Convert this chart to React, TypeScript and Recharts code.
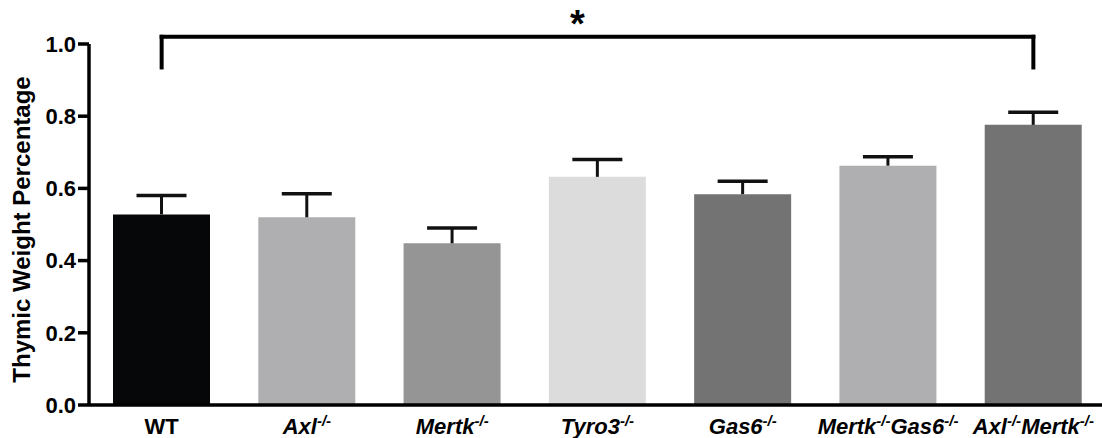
import React from 'react';
import { BarChart, Bar, XAxis, YAxis, Cell, ReferenceLine } from 'recharts';

const categories = ['WT', 'Axl', 'Mertk', 'Tyro3', 'Gas6', 'MertkGas6', 'AxlMertk'];
const means = [0.528, 0.520, 0.448, 0.632, 0.584, 0.663, 0.776];
const sems = [0.052, 0.065, 0.042, 0.048, 0.036, 0.025, 0.035];
const colors = ['#060708', '#afafb1', '#959595', '#dcdcdc', '#737373', '#afafb1', '#737373'];
// label parts: [text, isSuperscript, isItalic]
const tickLabels: [string, boolean, boolean][][] = [
  [['WT', false, false]],
  [['Axl', false, true], ['-/-', true, true]],
  [['Mertk', false, true], ['-/-', true, true]],
  [['Tyro3', false, true], ['-/-', true, true]],
  [['Gas6', false, true], ['-/-', true, true]],
  [['Mertk', false, true], ['-/-', true, true], ['Gas6', false, true], ['-/-', true, true]],
  [['Axl', false, true], ['-/-', true, true], ['Mertk', false, true], ['-/-', true, true]],
];
const yTicks = [0, 0.2, 0.4, 0.6, 0.8, 1.0];
const yTitle = 'Thymic Weight Percentage';
const bracketFrom = 'WT';
const bracketTo = 'AxlMertk';
const bracketTop = 1.02;
const bracketBottom = 0.935;
const bracketMark = '*';

const data = categories.map((c, i) => ({ name: c, mean: means[i], sem: sems[i] }));

const FONT = '"Liberation Sans", Arial, Helvetica, sans-serif';

const ErrShape = (p: any) => {
  const { x, y, width, height } = p;
  const cx = x + width / 2;
  return (
    <g>
      <line x1={cx} x2={cx} y1={y + height} y2={y} stroke="#111" strokeWidth={3} />
      <line x1={cx - 25} x2={cx + 25} y1={y} y2={y} stroke="#111" strokeWidth={3.5} />
    </g>
  );
};

const XTick = (p: any) => {
  const { x, y, payload } = p;
  const idx = categories.indexOf(payload.value);
  const parts = tickLabels[idx] || [];
  const nodes: any[] = [];
  let raised = false;
  parts.forEach(([t, sup, it], k) => {
    let dy: number | undefined = undefined;
    if (sup && !raised) { dy = -8; raised = true; }
    else if (!sup && raised) { dy = 8; raised = false; }
    nodes.push(
      <tspan key={k} dy={dy} fontSize={sup ? 15 : 22} fontStyle={it ? 'italic' : 'normal'}>{t}</tspan>
    );
  });
  return (
    <text x={x} y={y + 21} textAnchor="middle" fontFamily={FONT} fontWeight="bold" fontSize={22} fill="#000">
      {nodes}
    </text>
  );
};

const YTitle = (p: any) => {
  const vb = p.viewBox || {};
  const cx = (vb.x || 0) + 29.5;
  const cy = (vb.y || 0) + (vb.height || 0) / 2 + 5;
  return (
    <text x={cx} y={cy} transform={`rotate(-90 ${cx} ${cy})`} textAnchor="middle"
      fontFamily={FONT} fontWeight="bold" fontSize={24} fill="#000">{yTitle}</text>
  );
};

export default function App() {
  return (
    <div style={{ position: 'absolute', left: 0, top: 0, width: 1102, height: 438, overflow: 'hidden', background: '#fff' }}>
      <BarChart width={1110} height={438} data={data} margin={{ top: 44, right: 4, left: 0, bottom: 0 }}>
        <XAxis dataKey="name" interval={0} tickLine={false} height={33}
          axisLine={{ stroke: '#000', strokeWidth: 3.5 }} tick={<XTick />} />
        <YAxis width={89} domain={[0, 1]} ticks={yTicks} allowDataOverflow
          tickFormatter={(v: number) => v.toFixed(1)}
          axisLine={{ stroke: '#000', strokeWidth: 3.5 }}
          tickLine={{ stroke: '#000', strokeWidth: 3.5 }} tickSize={11} tickMargin={2}
          tick={{ fill: '#000', fontFamily: FONT, fontWeight: 'bold', fontSize: 22 }}
          label={<YTitle />} />
        <Bar dataKey="mean" stackId="a" barSize={97} isAnimationActive={false}>
          {data.map((d, i) => <Cell key={i} fill={colors[i]} />)}
        </Bar>
        <Bar dataKey="sem" stackId="a" barSize={97} isAnimationActive={false} fill="transparent" shape={<ErrShape />} />
        <ReferenceLine ifOverflow="visible" stroke="#000" strokeWidth={4} strokeLinecap="square"
          segment={[{ x: bracketFrom, y: bracketTop }, { x: bracketTo, y: bracketTop }]}
          label={{ value: bracketMark, position: 'top', offset: 0, dx: -20, fontSize: 38, fontWeight: 'bold', fill: '#000', fontFamily: FONT }} />
        <ReferenceLine ifOverflow="visible" stroke="#000" strokeWidth={4} strokeLinecap="square"
          segment={[{ x: bracketFrom, y: bracketTop }, { x: bracketFrom, y: bracketBottom }]} />
        <ReferenceLine ifOverflow="visible" stroke="#000" strokeWidth={4} strokeLinecap="square"
          segment={[{ x: bracketTo, y: bracketTop }, { x: bracketTo, y: bracketBottom }]} />
      </BarChart>
    </div>
  );
}
